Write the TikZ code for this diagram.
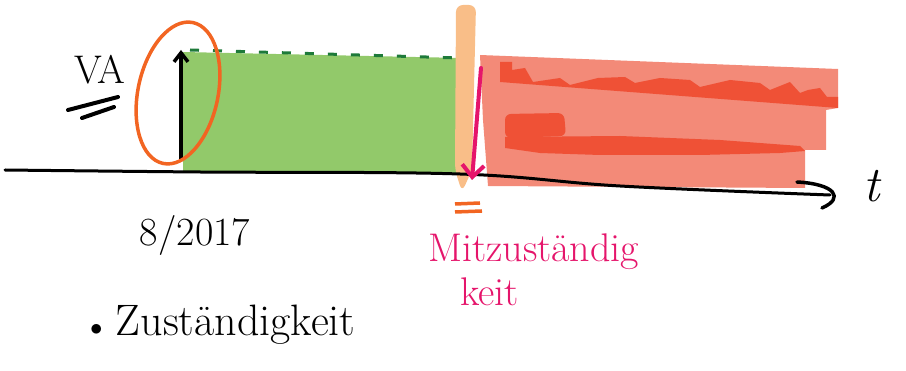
\documentclass[tikz,border=0pt]{standalone}
\usetikzlibrary{arrows.meta}
\definecolor{fillgreen}{HTML}{92C96A}
\definecolor{darkgreen}{HTML}{1E7A3A}
\definecolor{circleorange}{HTML}{F26522}
\definecolor{barorange}{HTML}{F9BE88}
\definecolor{salmon}{HTML}{F38A78}
\definecolor{darkred}{HTML}{EF5136}
\definecolor{markpink}{HTML}{E5156B}
\tikzset{
  ink/.style={line width=3.5pt, line cap=round, line join=round},
  hand/.style={font=\fontsize{40}{44}\selectfont, inner sep=0pt},
}
\begin{document}
\begin{tikzpicture}[x=1pt,y=-1pt]
     \useasboundingbox (0,0) rectangle (906,371);
     % green area
     \fill[fillgreen] (183,52) -- (462,58) -- (462,173) -- (183,172) -- cycle;
     \draw[darkgreen, line width=3pt, dash pattern=on 9pt off 14pt] (190,50) -- (460,58);
     % red area
     \fill[salmon] (480,55) -- (838,69) -- (838,108) -- (826,110) -- (826,150) -- (805,150) -- (805,188) -- (488,186) -- (483,120) -- cycle;
     \fill[darkred] (500,62) -- (512,62) -- (512,70) -- (525,68) -- (533,82) -- (560,78) -- (570,85) -- (598,78) -- (625,77) -- (635,83) -- (660,78) -- (690,80) -- (700,87) -- (730,80) -- (760,83) -- (770,90) -- (790,82) -- (800,93) -- (808,90) -- (820,88) -- (827,97) -- (838,97) -- (838,108) -- (500,82) -- cycle;
     \fill[darkred, rounded corners=6pt] (505,114) -- (564,113) -- (566,136) -- (505,138) -- cycle;
     \fill[darkred] (505,137) -- (620,136) -- (720,140) -- (800,146) -- (805,151) -- (780,153) -- (700,155) -- (600,155) -- (540,153) -- (505,148) -- cycle;
     % deadline bar
     \fill[barorange, rounded corners=7pt] (456,5) -- (476,5) -- (472,170) -- (462,192) -- (455,170) -- cycle;
     % time axis
     \coordinate (t0) at (5,170);
     \coordinate (t1) at (830,195);
     \draw[ink, line width=3pt] plot[smooth, tension=.6] coordinates{(t0) (200,172) (460,174) (620,186) (t1)};
     \draw[ink] (797,182) .. controls (835,184) and (845,198) .. (822,208);
     \node[hand, font=\fontsize{50}{54}\selectfont\itshape] (t) at (872,186) {t};
     % start arrow
     \coordinate (a0) at (181,160);
     \coordinate (a1) at (181,50);
     \draw[ink, -{Straight Barb[length=9pt,width=14pt]}] (a0) -- (a1);
     \draw[circleorange, line width=3.5pt, rotate around={-12:(178,93)}] (178,93) ellipse (40 and 72);
     \node[hand] (va) at (100,70) {VA};
     \draw[ink, line width=4pt] (68,110) -- (118,97) (82,118) -- (114,107);
     % pink arrow
     \coordinate (p0) at (481,68);
     \coordinate (p1) at (472,180);
     \draw[markpink, line width=4pt, line cap=round, -{Straight Barb[length=12pt,width=22pt]}] (p0) -- (p1);
     \draw[circleorange, line width=3.5pt] (455,204) -- (480,203) (455,212) -- (482,211);
     % labels
     \node[hand] (date) at (195,236) {8/2017};
     \node[hand, font=\fontsize{44}{48}\selectfont, anchor=west] (zust) at (90,325) {$\bullet$ Zuständigkeit};
     \node[hand, markpink, anchor=west] (mit) at (428,252) {Mitzuständig};
     \node[hand, markpink, anchor=west] (keit) at (460,292) {keit};
\end{tikzpicture}
\end{document}
